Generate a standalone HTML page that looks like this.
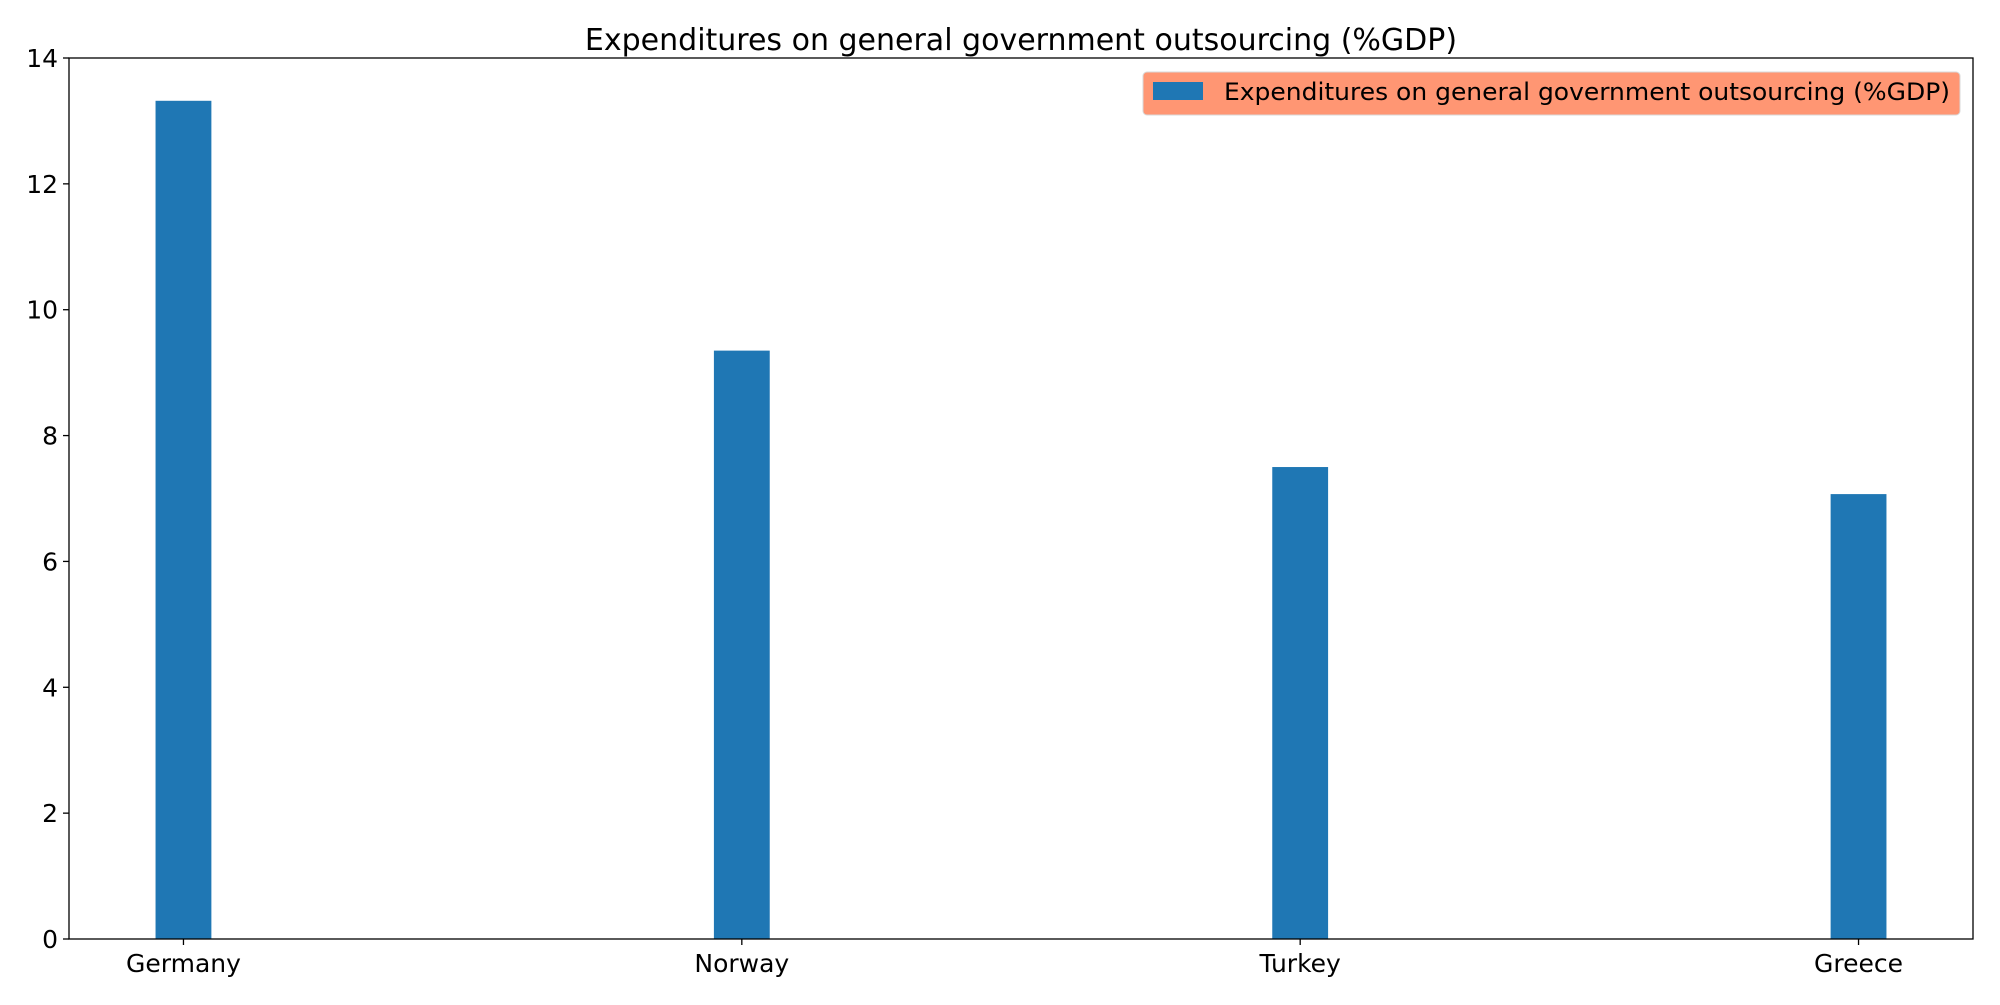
<!DOCTYPE html>
<html><head><meta charset="utf-8"><style>
html,body{margin:0;padding:0;background:#fff;}
svg text{font-family:"DejaVu Sans","Liberation Sans",sans-serif;fill:#000;}
</style></head><body>
<svg id="chart" width="2000" height="1000" xmlns="http://www.w3.org/2000/svg">
<text x="1021" y="50" font-size="30" text-anchor="middle">Expenditures on general government outsourcing (%GDP)</text>
<g id="bars"></g>
<g id="yticks"></g>
<g id="xticks"></g>
<rect x="69" y="58" width="1904" height="881" fill="none" stroke="#000" stroke-width="1.3"/>
<g>
<rect x="1143" y="72" width="817" height="43" rx="4" fill="#ff9673" stroke="#d8d8d8" stroke-width="1"/>
<rect x="1153" y="82" width="50" height="18" fill="#1f77b4"/>
<text x="1224" y="100" font-size="24" textLength="726" lengthAdjust="spacingAndGlyphs">Expenditures on general government outsourcing (%GDP)</text>
</g>
</svg>
<script>
const categories = ["Germany","Norway","Turkey","Greece"];
const values = [13.32, 9.35, 7.5, 7.07];
const yTicks = [0,2,4,6,8,10,12,14];
const L=69,R=1973,T=58,B=939;
const xMin=-0.205,xMax=3.205,yMax=14;
const xs=v=>L+(v-xMin)/(xMax-xMin)*(R-L);
const ys=v=>B-v/yMax*(B-T);
const NS="http://www.w3.org/2000/svg";
const bw=0.1*(R-L)/(xMax-xMin);
const gb=document.getElementById('bars'),gx=document.getElementById('xticks'),gy=document.getElementById('yticks');
function mk(t,a){const e=document.createElementNS(NS,t);for(const k in a)e.setAttribute(k,a[k]);return e;}
values.forEach((v,i)=>{
 const r=mk('rect',{x:xs(i)-bw/2,y:ys(v),width:bw,height:B-ys(v),fill:'#1f77b4'});
 
 
 gb.appendChild(r);
 const tk=mk('line',{x1:xs(i),x2:xs(i),y1:B,y2:B+6,stroke:'#000','stroke-width':1.3});
 
 
 gx.appendChild(tk);
 const t=mk('text',{x:xs(i),y:B+33,'font-size':25,'text-anchor':'middle'});
 t.textContent=categories[i];
 
 
 gx.appendChild(t);
});
yTicks.forEach(v=>{
 const tk=mk('line',{x1:L-6,x2:L,y1:ys(v),y2:ys(v),stroke:'#000','stroke-width':1.3});
 
 
 gy.appendChild(tk);
 const t=mk('text',{x:L-11,y:ys(v)+9,'font-size':25,'text-anchor':'end'});
 t.textContent=v;
 
 
 gy.appendChild(t);
});
</script>
</body></html>
